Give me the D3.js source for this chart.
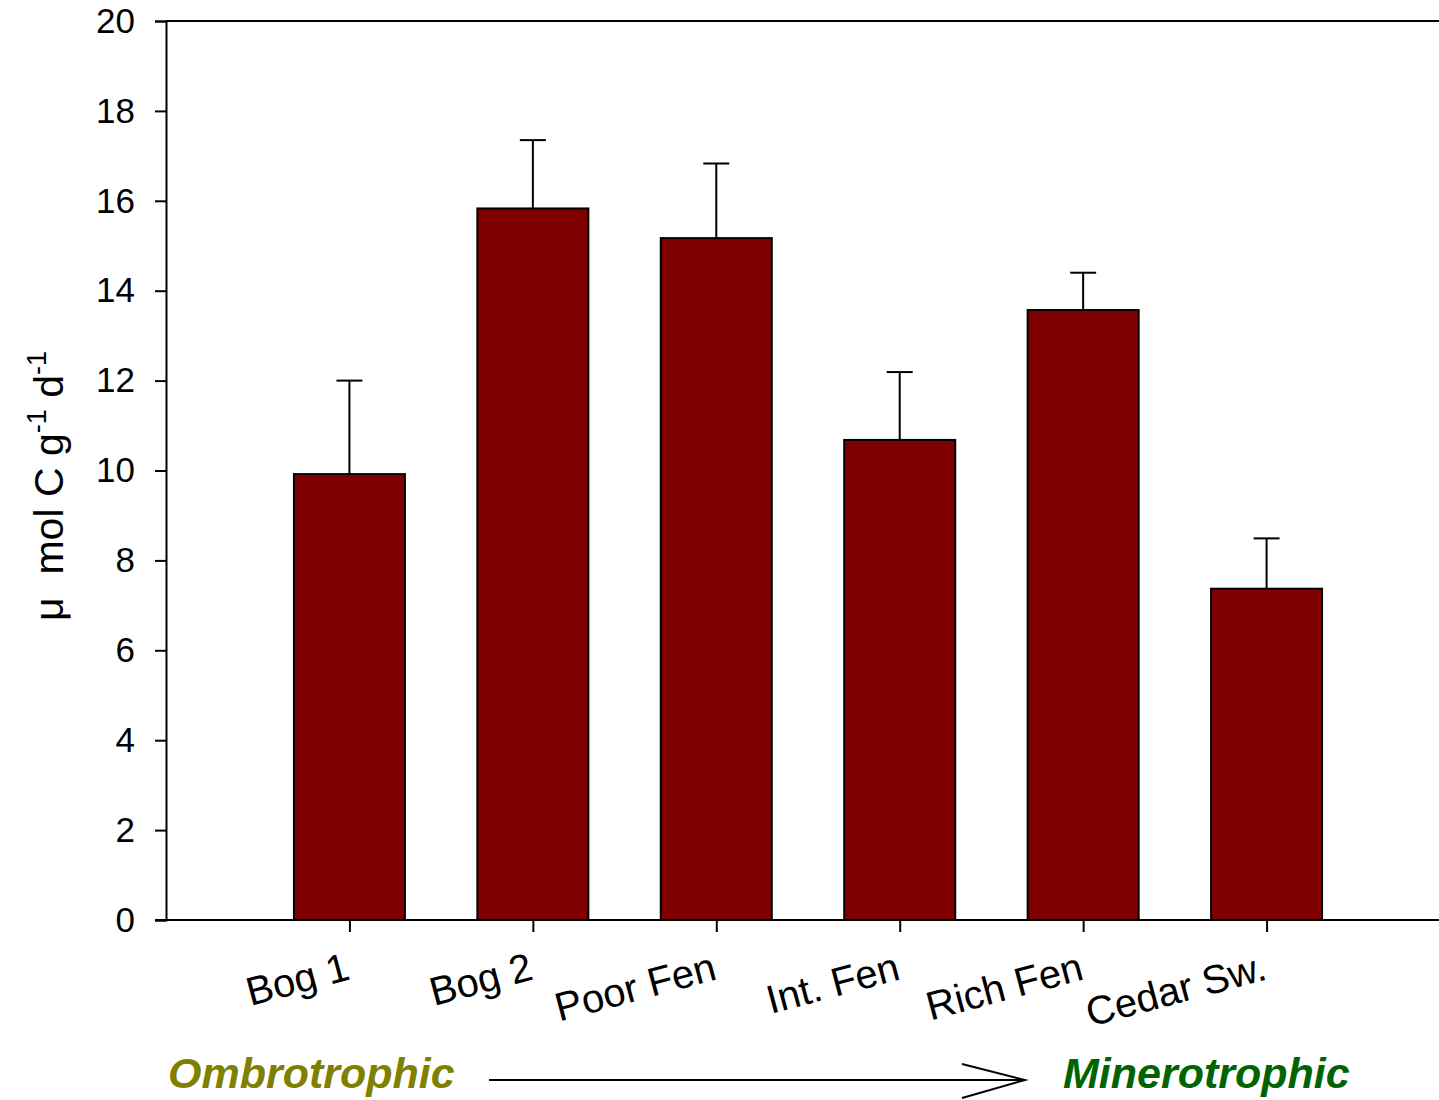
<!DOCTYPE html>
<html>
<head>
<meta charset="utf-8">
<script src="https://cdn.jsdelivr.net/npm/d3@7"></script>
<style>
  html, body { margin: 0; padding: 0; background: #fff; }
  svg { display: block; font-family: "Liberation Sans", Arial, sans-serif; }
</style>
</head>
<body>
<svg id="chart" width="1439" height="1100"></svg>
<script>
// Sites along the ombrotrophic → minerotrophic gradient
const sites = ["Bog 1", "Bog 2", "Poor Fen", "Int. Fen", "Rich Fen", "Cedar Sw."];
// Mean rate (µmol C g-1 d-1) and upper standard error
const means = [9.92, 15.83, 15.17, 10.68, 13.57, 7.37];
const errors = [2.08, 1.52, 1.66, 1.51, 0.83, 1.12];
const yTicks = [0, 2, 4, 6, 8, 10, 12, 14, 16, 18, 20];

(function drawChart() {
  const svg = d3.select("#chart");
  const plotLeft = 166, plotRight = 1450, plotTop = 21, plotBottom = 920;

  // Bars sit at integer positions 1..6 on a 0..7 linear axis
  const x = d3.scaleLinear().domain([0, sites.length + 1]).range([plotLeft, plotRight]);
  const y = d3.scaleLinear().domain([0, 20]).range([plotBottom, plotTop]);
  const barW = 111;

  // Y axis with outward ticks
  const yAxis = svg.append("g")
    .attr("transform", `translate(${plotLeft},0)`)
    .call(d3.axisLeft(y).tickValues(yTicks).tickSize(11).tickPadding(20).tickFormat(d3.format("d")));
  yAxis.attr("font-size", null).attr("font-family", null);
  yAxis.select(".domain").attr("stroke", "#000").attr("stroke-width", 2);
  yAxis.selectAll(".tick line").attr("stroke", "#000").attr("stroke-width", 2);
  yAxis.selectAll(".tick text").attr("font-size", 35).attr("fill", "#000");

  // Top frame line at y = 20 (continues the top tick)
  svg.append("line")
    .attr("x1", plotLeft).attr("x2", plotRight)
    .attr("y1", y(20)).attr("y2", y(20))
    .attr("stroke", "#000").attr("stroke-width", 2);

  // Bars
  svg.append("g").selectAll("rect")
    .data(means)
    .join("rect")
    .attr("x", (d, i) => x(i + 1) - barW / 2)
    .attr("y", d => y(d))
    .attr("width", barW)
    .attr("height", d => y(0) - y(d))
    .attr("fill", "#800000")
    .attr("stroke", "#000")
    .attr("stroke-width", 2);

  // Upper error bars
  const eb = svg.append("g").attr("stroke", "#000").attr("stroke-width", 2);
  means.forEach((m, i) => {
    const cx = x(i + 1);
    eb.append("line").attr("x1", cx).attr("x2", cx).attr("y1", y(m)).attr("y2", y(m + errors[i]));
    eb.append("line").attr("x1", cx - 13).attr("x2", cx + 13).attr("y1", y(m + errors[i])).attr("y2", y(m + errors[i]));
  });

  // X axis
  const xAxis = svg.append("g")
    .attr("transform", `translate(0,${plotBottom})`)
    .call(d3.axisBottom(x).tickValues(d3.range(1, sites.length + 1)).tickSize(12).tickFormat(""));
  xAxis.select(".domain").attr("stroke", "#000").attr("stroke-width", 2).attr("d", `M${plotLeft - 11},0H${plotRight}`);
  xAxis.selectAll(".tick line").attr("stroke", "#000").attr("stroke-width", 2);

  // Rotated site labels, ending under each tick
  svg.append("g").selectAll("text")
    .data(sites)
    .join("text")
    .attr("transform", (d, i) => `translate(${x(i + 1) + 2},${979}) rotate(-15)`)
    .attr("text-anchor", "end")
    .attr("font-size", 40)
    .attr("fill", "#000")
    .text(d => d);

  // Y axis title with superscripts
  const yt = svg.append("text")
    .attr("transform", `translate(63,486) rotate(-90)`)
    .attr("text-anchor", "middle")
    .attr("font-size", 41)
    .attr("fill", "#000")
    .attr("xml:space", "preserve");
  yt.append("tspan").text("μ  mol C g");
  yt.append("tspan").attr("dy", -17).attr("font-size", 27).text("-1");
  yt.append("tspan").attr("dy", 17).text(" d");
  yt.append("tspan").attr("dy", -17).attr("font-size", 27).text("-1");

  // Gradient annotation
  svg.append("text")
    .attr("x", 168).attr("y", 1088)
    .attr("font-size", 43).attr("font-weight", "bold").attr("font-style", "italic")
    .attr("fill", "#808000")
    .text("Ombrotrophic");
  svg.append("text")
    .attr("x", 1063).attr("y", 1088)
    .attr("font-size", 43).attr("font-weight", "bold").attr("font-style", "italic")
    .attr("fill", "#006400")
    .text("Minerotrophic");

  const arrow = svg.append("g").attr("stroke", "#000").attr("stroke-width", 2).attr("fill", "none");
  arrow.append("line").attr("x1", 489).attr("x2", 1025).attr("y1", 1080).attr("y2", 1080);
  arrow.append("path").attr("d", "M962,1064 L1025,1080 L962,1098");
})();
</script>
</body>
</html>
